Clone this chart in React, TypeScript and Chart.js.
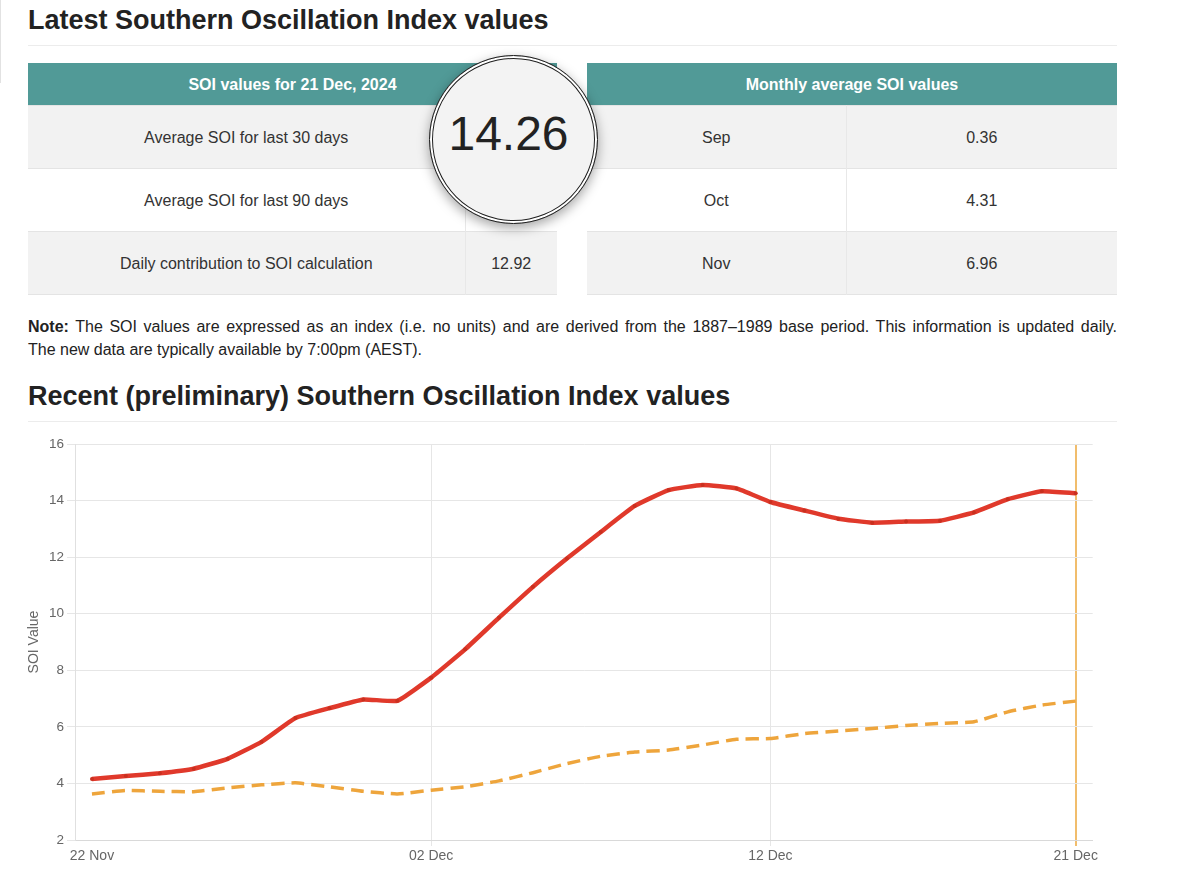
import React, { useEffect, useRef } from "react";
import { Chart, registerables } from "chart.js";

Chart.register(...registerables);

const dates = [
  "22 Nov", "23 Nov", "24 Nov", "25 Nov", "26 Nov", "27 Nov", "28 Nov", "29 Nov", "30 Nov",
  "01 Dec", "02 Dec", "03 Dec", "04 Dec", "05 Dec", "06 Dec", "07 Dec", "08 Dec", "09 Dec",
  "10 Dec", "11 Dec", "12 Dec", "13 Dec", "14 Dec", "15 Dec", "16 Dec", "17 Dec", "18 Dec",
  "19 Dec", "20 Dec", "21 Dec",
];
const shownTicks = ["22 Nov", "02 Dec", "12 Dec", "21 Dec"];
const gridTicks = ["02 Dec", "12 Dec"];
const currentDay = "21 Dec";

const soi30 = [
  4.16, 4.26, 4.36, 4.52, 4.87, 5.47, 6.31, 6.66, 6.97, 6.92,
  7.74, 8.74, 9.86, 10.95, 11.95, 12.89, 13.81, 14.37, 14.55, 14.43,
  13.95, 13.65, 13.36, 13.22, 13.26, 13.29, 13.58, 14.05, 14.33, 14.26,
];
const soi90 = [
  3.63, 3.75, 3.72, 3.71, 3.84, 3.95, 4.02, 3.88, 3.72, 3.63,
  3.76, 3.88, 4.09, 4.38, 4.70, 4.96, 5.11, 5.18, 5.36, 5.56,
  5.59, 5.76, 5.85, 5.94, 6.05, 6.12, 6.18, 6.53, 6.77, 6.91,
];
const yTicks = [2, 4, 6, 8, 10, 12, 14, 16];

const dailyLabels = ["Average SOI for last 30 days", "Average SOI for last 90 days", "Daily contribution to SOI calculation"];
const dailyValues = ["14.26", "6.91", "12.92"];
const monthLabels = ["Sep", "Oct", "Nov"];
const monthValues = ["0.36", "4.31", "6.96"];
const magnifiedValue = "14.26";

const FONT = '"Liberation Sans", Arial, Helvetica, sans-serif';
const TEAL = "#519a97";

function SoiChart() {
  const ref = useRef<HTMLCanvasElement | null>(null);
  useEffect(() => {
    if (!ref.current) return;
    const chart = new Chart(ref.current, {
      type: "line",
      data: {
        labels: dates,
        datasets: [
          {
            label: "30-day average SOI",
            data: soi30,
            borderColor: "#e0392b",
            backgroundColor: "#c9301f",
            borderWidth: 4.5,
            pointRadius: 2,
            pointBorderWidth: 0,
            tension: 0.12,
            fill: false,
          },
          {
            label: "90-day average SOI",
            data: soi90,
            borderColor: "#eea53c",
            backgroundColor: "#eea53c",
            borderWidth: 3.5,
            borderDash: [13, 7],
            pointRadius: 0,
            tension: 0.15,
            fill: false,
          },
        ],
      },
      options: {
        animation: false,
        responsive: true,
        maintainAspectRatio: false,
        layout: { padding: { top: 14, right: 7, left: 0, bottom: 0 } },
        plugins: { legend: { display: false }, tooltip: { enabled: false } },
        scales: {
          x: {
            offset: true,
            afterFit: (s: any) => { s.height = 30; },
            border: { display: true, color: "#d9d9d9" },
            grid: {
              color: (ctx: any) => {
                const l = dates[ctx.index];
                if (l === currentDay) return "#f1bd6c";
                if (gridTicks.includes(l)) return "#e6e6e6";
                return "rgba(0,0,0,0)";
              },
              lineWidth: (ctx: any) => (dates[ctx.index] === currentDay ? 2 : 1),
              tickLength: 6,
            },
            ticks: {
              autoSkip: false,
              maxRotation: 0,
              color: "#666",
              font: { family: FONT, size: 14 },
              padding: 2,
              callback: (_v: any, i: number) => (shownTicks.includes(dates[i]) ? dates[i] : ""),
            },
          },
          y: {
            min: yTicks[0],
            max: yTicks[yTicks.length - 1],
            afterFit: (s: any) => { s.width = 51; },
            border: { display: true, color: "#e0e0e0" },
            grid: { color: "#e6e6e6", tickLength: 8 },
            ticks: { stepSize: 2, color: "#666", font: { family: FONT, size: 13.5 }, padding: 3 },
            title: { display: true, text: "SOI Value", color: "#666", font: { family: FONT, size: 14 }, padding: 2 },
          },
        },
      },
    });
    return () => chart.destroy();
  }, []);
  return (
    <div style={{ position: "absolute", left: 24, top: 430, width: 1076, height: 440 }}>
      <canvas ref={ref} />
    </div>
  );
}

const cellBase: React.CSSProperties = {
  height: 63,
  textAlign: "center",
  verticalAlign: "middle",
  fontSize: 16,
  color: "#333",
  borderTop: "1px solid #e4e4e4",
  padding: "3px 0 0 0",
  boxSizing: "border-box",
};

function Table(props: { left: number; width: number; split: number; title: string; labels: string[]; values: string[] }) {
  const { left, width, split, title, labels, values } = props;
  return (
    <table
      style={{
        position: "absolute",
        left,
        top: 63,
        width,
        borderCollapse: "collapse",
        tableLayout: "fixed",
        fontFamily: FONT,
        borderBottom: "1px solid #e4e4e4",
      }}
    >
      <colgroup>
        <col style={{ width: split }} />
        <col style={{ width: width - split }} />
      </colgroup>
      <thead>
        <tr>
          <th
            colSpan={2}
            style={{ height: 42, background: TEAL, color: "#fff", fontSize: 16, fontWeight: 700, padding: "3px 0 0 0", boxSizing: "border-box" }}
          >
            {title}
          </th>
        </tr>
      </thead>
      <tbody>
        {labels.map((l, i) => (
          <tr key={l} style={{ background: i % 2 === 0 ? "#f2f2f2" : "#fff" }}>
            <td style={{ ...cellBase, borderRight: "1px solid #e8e8e8" }}>{l}</td>
            <td style={{ ...cellBase }}>{values[i]}</td>
          </tr>
        ))}
      </tbody>
    </table>
  );
}

const headingStyle: React.CSSProperties = {
  position: "absolute",
  left: 28,
  fontSize: 27,
  fontWeight: 700,
  color: "#222",
  lineHeight: "32px",
  whiteSpace: "nowrap",
};

const noteStyle: React.CSSProperties = {
  width: 1089,
  fontSize: 16,
  lineHeight: "23px",
  color: "#222",
  whiteSpace: "nowrap",
};

export default function App() {
  return (
    <div
      style={{
        position: "absolute",
        left: 0,
        top: 0,
        width: 1200,
        height: 879,
        background: "#fff",
        fontFamily: FONT,
        overflow: "hidden",
      }}
    >
      <div style={{ position: "absolute", left: 0, top: 0, width: 1, height: 83, background: "#e2e2e2" }} />
      <div style={{ ...headingStyle, top: 4 }}>Latest Southern Oscillation Index values</div>
      <div style={{ position: "absolute", left: 28, top: 45, width: 1089, height: 1, background: "#ececec" }} />

      <Table left={28} width={529} split={437} title="SOI values for 21 Dec, 2024" labels={dailyLabels} values={dailyValues} />
      <Table left={587} width={530} split={259} title="Monthly average SOI values" labels={monthLabels} values={monthValues} />

      <div
        style={{
          position: "absolute",
          left: 429,
          top: 55,
          width: 167,
          height: 167,
          borderRadius: "50%",
          background: "#f3f3f3",
          border: "1.5px solid #1e1e1e",
          boxShadow: "inset 0 0 0 2px #fff, inset 0 0 0 3px #1e1e1e, 0 4px 12px rgba(0,0,0,0.35)",
          display: "flex",
          alignItems: "center",
          justifyContent: "center",
        }}
      >
        <div style={{ fontSize: 48, color: "#222", marginTop: -12, marginLeft: -10, fontFamily: FONT }}>{magnifiedValue}</div>
      </div>

      <div style={{ position: "absolute", left: 28, top: 315 }}>
        <div style={{ ...noteStyle, textAlign: "justify", textAlignLast: "justify" }}>
          <b>Note:</b> The SOI values are expressed as an index (i.e. no units) and are derived from the 1887–1989 base
          period. This information is updated daily.
        </div>
        <div style={noteStyle}>The new data are typically available by 7:00pm (AEST).</div>
      </div>

      <div style={{ ...headingStyle, top: 380 }}>Recent (preliminary) Southern Oscillation Index values</div>
      <div style={{ position: "absolute", left: 28, top: 421, width: 1089, height: 1, background: "#ececec" }} />

      <SoiChart />
    </div>
  );
}
